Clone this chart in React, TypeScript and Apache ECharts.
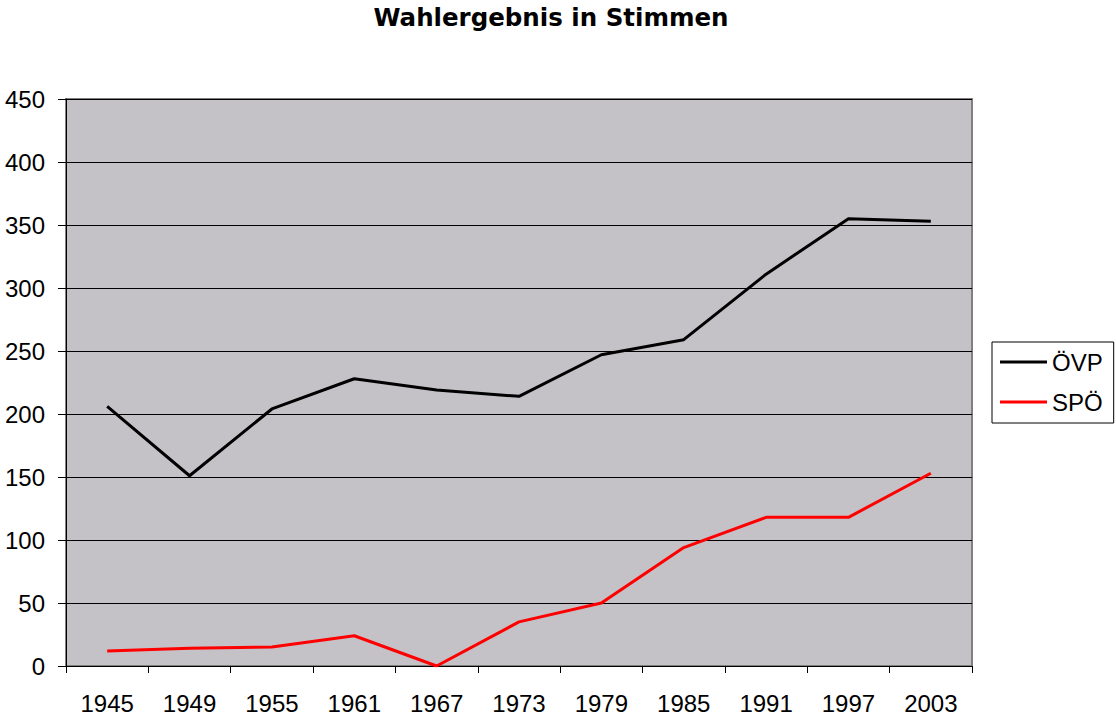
import React, { useEffect, useRef } from "react";
import * as echarts from "echarts";

const years = ["1945", "1949", "1955", "1961", "1967", "1973", "1979", "1985", "1991", "1997", "2003"];
const oevp = [206, 151, 204, 228, 219, 214, 247, 259, 311, 355, 353];
const spoe = [12, 14, 15, 24, 0, 35, 50, 94, 118, 118, 153];
const yTicks = { min: 0, max: 450, interval: 50 };

const FONT = "'Liberation Sans', Arial, sans-serif";

export default function App() {
  const ref = useRef<HTMLDivElement>(null);
  useEffect(() => {
    if (!ref.current) return;
    const chart = echarts.init(ref.current, undefined, { renderer: "svg" });
    chart.setOption({
      animation: false,
      backgroundColor: "#ffffff",
      title: {
        text: "Wahlergebnis in Stimmen",
        left: 551,
        top: 5,
        padding: 0,
        textAlign: "center",
        textStyle: {
          fontFamily: "'DejaVu Sans', sans-serif",
          fontWeight: "bold",
          fontSize: 24.5,
          color: "#000",
        },
      },
      legend: {
        orient: "vertical",
        left: 992,
        top: 342,
        padding: [8, 11, 9, 8],
        backgroundColor: "#ffffff",
        borderColor: "#000000",
        borderWidth: 1,
        borderRadius: 0,
        itemWidth: 47,
        itemHeight: 3,
        itemGap: 16,
        icon: "rect",
        textStyle: { fontFamily: FONT, fontSize: 24, color: "#000" },
        data: ["ÖVP", "SPÖ"],
      },
      grid: {
        left: 66,
        top: 99,
        width: 906,
        height: 567,
        show: true,
        backgroundColor: "#c4c2c6",
        borderColor: "#808080",
        borderWidth: 2,
      },
      xAxis: {
        type: "category",
        data: years,
        boundaryGap: true,
        axisLine: { show: true, lineStyle: { color: "#000", width: 1 } },
        axisTick: { show: true, length: 7, lineStyle: { color: "#000", width: 1 } },
        axisLabel: { interval: 0, margin: 25, fontFamily: FONT, fontSize: 24, color: "#000" },
        splitLine: { show: false },
      },
      yAxis: {
        type: "value",
        min: yTicks.min,
        max: yTicks.max,
        interval: yTicks.interval,
        axisLine: { show: true, lineStyle: { color: "#000", width: 1 } },
        axisTick: { show: true, length: 8, lineStyle: { color: "#000", width: 1 } },
        axisLabel: { margin: 21, fontFamily: FONT, fontSize: 24, color: "#000" },
        splitLine: { show: true, lineStyle: { color: "#000", width: 1 } },
      },
      series: [
        {
          name: "ÖVP",
          type: "line",
          data: oevp,
          symbol: "none",
          color: "#000000",
          lineStyle: { color: "#000000", width: 3 },
        },
        {
          name: "SPÖ",
          type: "line",
          data: spoe,
          symbol: "none",
          color: "#ff0000",
          lineStyle: { color: "#ff0000", width: 3 },
        },
      ],
    });
    return () => chart.dispose();
  }, []);
  return (
    <div
      ref={ref}
      style={{ position: "fixed", left: 0, top: 0, width: 1116, height: 716, background: "#fff" }}
    />
  );
}
